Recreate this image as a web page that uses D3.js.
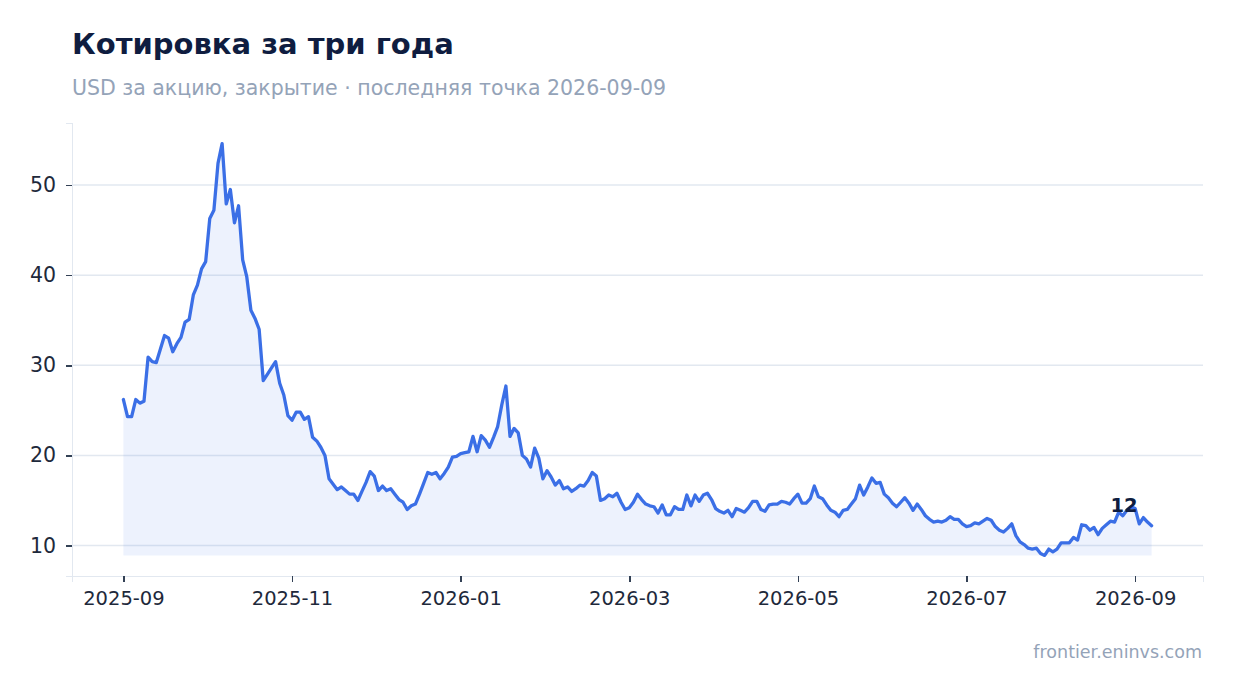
<!DOCTYPE html>
<html>
<head>
<meta charset="utf-8">
<script src="https://cdnjs.cloudflare.com/ajax/libs/d3/7.8.5/d3.min.js"></script>
<style>
  body { margin: 0; background: #fff; }
  svg { display: block; font-family: "DejaVu Sans", sans-serif; }
  .axis path, .axis line { shape-rendering: crispEdges; }
</style>
</head>
<body>
<svg id="chart"></svg>
<script>
var titleText = "Котировка за три года";
var subtitleText = "USD за акцию, закрытие · последняя точка 2026-09-09";
var sourceText = "frontier.eninvs.com";

// first and last close, points are evenly spaced between them
var firstDate = "2025-09-01",
    lastDate = "2026-09-08";

// a tick label every this many points
var tickEvery = 41;

var closes = [
  26.2, 24.3, 24.3, 26.2, 25.8, 26.0, 30.9, 30.4, 30.3, 31.8,
  33.3, 33.0, 31.5, 32.4, 33.1, 34.8, 35.1, 37.8, 38.9, 40.7,
  41.5, 46.3, 47.2, 52.4, 54.6, 47.9, 49.5, 45.8, 47.7, 41.7,
  39.8, 36.1, 35.2, 34.0, 28.3, 29.0, 29.7, 30.4, 28.0, 26.7,
  24.4, 23.9, 24.8, 24.8, 24.0, 24.3, 22.0, 21.6, 20.9, 20.0,
  17.4, 16.8, 16.2, 16.5, 16.1, 15.7, 15.7, 15.0, 16.0, 17.0,
  18.2, 17.7, 16.1, 16.6, 16.1, 16.3, 15.7, 15.1, 14.8, 14.0,
  14.4, 14.6, 15.7, 16.9, 18.1, 17.9, 18.1, 17.4, 18.0, 18.7,
  19.8, 19.9, 20.2, 20.3, 20.4, 22.1, 20.4, 22.2, 21.7, 20.9,
  22.0, 23.2, 25.6, 27.7, 22.1, 23.0, 22.5, 20.0, 19.6, 18.7,
  20.8, 19.7, 17.4, 18.3, 17.6, 16.7, 17.2, 16.3, 16.5, 16.0,
  16.3, 16.7, 16.6, 17.2, 18.1, 17.7, 15.0, 15.2, 15.6, 15.4,
  15.8, 14.8, 14.0, 14.2, 14.8, 15.7, 15.1, 14.6, 14.4, 14.3,
  13.6, 14.5, 13.4, 13.4, 14.3, 14.0, 14.0, 15.6, 14.4, 15.6,
  14.9, 15.6, 15.8, 15.1, 14.1, 13.8, 13.6, 13.9, 13.2, 14.1,
  13.9, 13.7, 14.2, 14.9, 14.9, 14.0, 13.8, 14.5, 14.6, 14.6,
  14.9, 14.8, 14.6, 15.2, 15.7, 14.7, 14.7, 15.2, 16.6, 15.4,
  15.2, 14.5, 13.9, 13.7, 13.2, 13.9, 14.0, 14.6, 15.2, 16.7,
  15.6, 16.5, 17.5, 16.9, 17.0, 15.7, 15.3, 14.7, 14.3, 14.8,
  15.3, 14.7, 13.9, 14.6, 14.0, 13.3, 12.9, 12.6, 12.7, 12.6,
  12.8, 13.2, 12.9, 12.9, 12.4, 12.1, 12.2, 12.5, 12.4, 12.7,
  13.0, 12.8, 12.1, 11.7, 11.5, 11.9, 12.4, 11.1, 10.4, 10.1,
  9.7, 9.6, 9.7, 9.1, 8.9, 9.6, 9.3, 9.6, 10.3, 10.3,
  10.3, 10.9, 10.6, 12.3, 12.2, 11.7, 12.0, 11.2, 11.9, 12.3,
  12.7, 12.6, 13.7, 13.3, 13.9, 14.3, 14.1, 12.4, 13.1, 12.6,
  12.2
];

var width = 1234, height = 693;
var margin = {top: 123, right: 31, bottom: 117, left: 72};
var innerW = width - margin.left - margin.right,
    innerH = height - margin.top - margin.bottom;

var svg = d3.select("#chart")
  .attr("width", width)
  .attr("height", height);

var parse = d3.utcParse("%Y-%m-%d");
var t0 = parse(firstDate), t1 = parse(lastDate);
var when = d3.scaleLinear().domain([0, closes.length - 1]).range([t0.getTime(), t1.getTime()]);

var data = closes.map(function(v, i) {
  return {date: new Date(when(i)), value: v};
});

var span = t1 - t0;
var x = d3.scaleUtc()
  .domain([new Date(+t0 - span * 0.05), new Date(+t1 + span * 0.05)])
  .range([0, innerW]);

var lo = d3.min(closes), hi = d3.max(closes);
var pad = (hi - lo) * 0.05;
var y = d3.scaleLinear()
  .domain([lo - pad, hi + pad])
  .range([innerH, 0]);

// titles
svg.append("text")
  .attr("x", 72).attr("y", 54)
  .attr("fill", "#0f1d40")
  .style("font-size", "29px")
  .style("font-weight", "bold")
  .text(titleText);

svg.append("text")
  .attr("x", 72).attr("y", 95)
  .attr("fill", "#94a3b8")
  .style("font-size", "20.5px")
  .text(subtitleText);

svg.append("text")
  .attr("x", 1202).attr("y", 658)
  .attr("text-anchor", "end")
  .attr("fill", "#94a3b8")
  .style("font-size", "17.5px")
  .text(sourceText);

var g = svg.append("g").attr("transform", "translate(" + margin.left + "," + margin.top + ")");

// grid
g.append("g")
  .selectAll("line")
  .data(y.ticks(5))
  .enter().append("line")
    .attr("x1", 0).attr("x2", innerW)
    .attr("y1", function(d) { return y(d); })
    .attr("y2", function(d) { return y(d); })
    .attr("stroke", "#e2e8f0")
    .attr("stroke-width", 1.5);

// area down to the lowest close
var area = d3.area()
  .x(function(d) { return x(d.date); })
  .y0(y(lo))
  .y1(function(d) { return y(d.value); });

g.append("path")
  .datum(data)
  .attr("d", area)
  .attr("fill", "#3b6fe6")
  .attr("fill-opacity", 0.09);

var line = d3.line()
  .x(function(d) { return x(d.date); })
  .y(function(d) { return y(d.value); });

g.append("path")
  .datum(data)
  .attr("d", line)
  .attr("fill", "none")
  .attr("stroke", "#3b6fe6")
  .attr("stroke-width", 3.3)
  .attr("stroke-linejoin", "round")
  .attr("stroke-linecap", "round");

// axes
var tickDates = data.filter(function(d, i) { return i % tickEvery === 0; })
  .map(function(d) { return d.date; });

var xAxis = g.append("g")
  .attr("class", "axis")
  .attr("transform", "translate(0," + innerH + ")")
  .call(d3.axisBottom(x)
    .tickValues(tickDates)
    .tickFormat(d3.utcFormat("%Y-%m"))
    .tickSize(6)
    .tickPadding(9));

var yAxis = g.append("g")
  .attr("class", "axis")
  .call(d3.axisLeft(y)
    .ticks(5)
    .tickSize(6)
    .tickPadding(10));

[xAxis, yAxis].forEach(function(ax) {
  ax.select(".domain").attr("stroke", "#e2e8f0").attr("stroke-width", 1.5);
  ax.selectAll(".tick line").attr("stroke", "#334155").attr("stroke-width", 1.5);
  ax.selectAll(".tick text")
    .attr("fill", "#1e293b")
    .style("font-family", "DejaVu Sans, sans-serif");
});
xAxis.selectAll(".tick text").style("font-size", "19.5px");
yAxis.selectAll(".tick text").style("font-size", "20.5px");

// last value label
var last = data[data.length - 1];
g.append("text")
  .attr("x", x(last.date) - 14)
  .attr("y", y(last.value) - 14)
  .attr("text-anchor", "end")
  .attr("fill", "#0f1d40")
  .style("font-size", "19.5px")
  .style("font-weight", "bold")
  .text(d3.format(".0f")(last.value));
</script>
</body>
</html>
